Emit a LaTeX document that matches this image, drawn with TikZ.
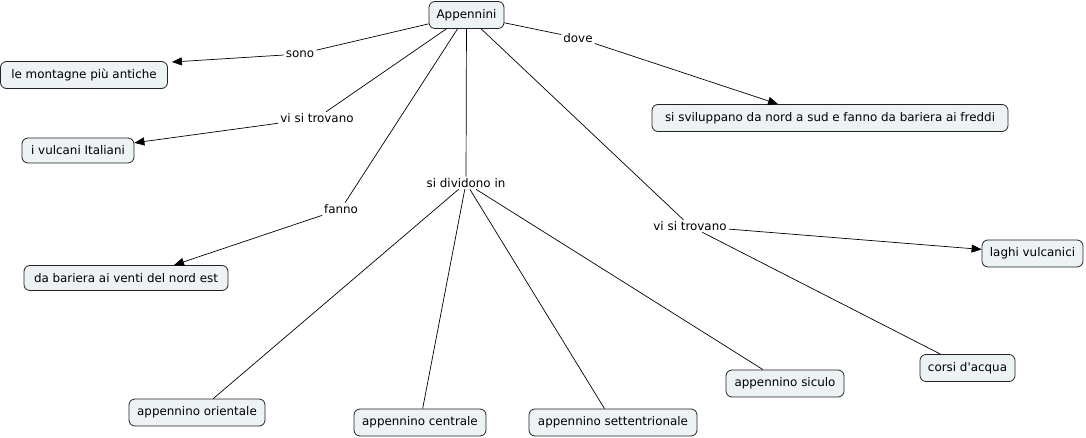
\documentclass[tikz,border=0pt]{standalone}
\usepackage{fontspec}
\setmainfont{DejaVu Sans}[Ligatures=TeXOff]
\usetikzlibrary{arrows.meta,calc}
\definecolor{conceptfill}{RGB}{237,242,245}
\definecolor{conceptline}{RGB}{35,35,35}
\begin{document}
\begin{tikzpicture}[x=1pt,y=-1pt,
  txt/.style={font=\fontsize{11.9}{13}\selectfont, text=black},
  concept/.style={txt, draw=conceptline, fill=conceptfill, rounded corners=6pt,
    line width=0.8pt, inner xsep=5pt, inner ysep=2pt, minimum height=27pt},
  phrase/.style={txt, fill=white, inner xsep=2pt, inner ysep=1.5pt},
  link/.style={line width=0.7pt, draw=black},
  arr/.style={link, -{Triangle[length=10pt,width=8pt]}}]
\useasboundingbox[fill=white] (0,0) rectangle (1086,438);

% concepts
\node[concept, minimum width=75pt]  (app) at (466.5,15)   {Appennini};
\node[concept, minimum width=167pt] (lm)  at (84,75)      {le montagne più antiche};
\node[concept, minimum width=112pt, minimum height=25pt] (vi) at (78,150.5) {i vulcani Italiani};
\node[concept, minimum width=204pt, minimum height=25pt] (db) at (126,278) {da bariera ai venti del nord est};
\node[concept, minimum width=356pt] (ss)  at (830,118)    {si sviluppano da nord a sud e fanno da bariera ai freddi};
\node[concept, minimum width=101pt] (lv)  at (1032.5,253.5) {laghi vulcanici};
\node[concept, minimum width=95pt]  (ca)  at (967.5,368)  {corsi d'acqua};
\node[concept, minimum width=136pt] (ao)  at (197,412.5)  {appennino orientale};
\node[concept, minimum width=132pt] (ac)  at (420,422.5)  {appennino centrale};
\node[concept, minimum width=168pt] (ast) at (613,422.5)  {appennino settentrionale};
\node[concept, minimum width=118pt] (asi) at (785,383.5)  {appennino siculo};

% linking phrases
\node[phrase] (sono)  at (300,54)  {sono};
\node[phrase] (vst1)  at (317,118) {vi si trovano};
\node[phrase] (fanno) at (341,209) {fanno};
\node[phrase] (sdi)   at (466,183) {si dividono in};
\node[phrase] (dove)  at (578,38)  {dove};
\node[phrase] (vst2)  at (690,226) {vi si trovano};

% connectors
\draw[link] (app) -- (sono);
\draw[arr, shorten >=1pt] (sono) -- ($(lm.north east)+(3,1)$);
\draw[link] (app) -- (vst1);
\draw[arr] (vst1) -- (vi);
\draw[link] (app) -- (fanno);
\draw[arr] (fanno) -- ($(db.north)+(48,0)$);
\draw[link] (app) -- (sdi);
\draw[link] (sdi) -- (ao);
\draw[link] (sdi) -- (ac);
\draw[link] (sdi) -- (ast);
\draw[link] (sdi) -- (asi);
\draw[link] (app) -- (dove);
\draw[arr] (dove) -- ($(ss.north)+(-52,0)$);
\draw[link] (app) -- (vst2);
\draw[arr] (vst2) -- (lv);
\draw[link] (vst2) -- (ca);
\end{tikzpicture}
\end{document}
